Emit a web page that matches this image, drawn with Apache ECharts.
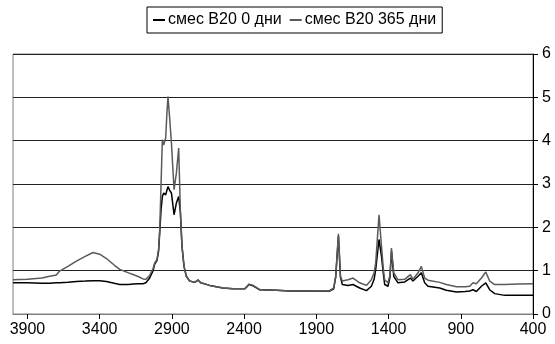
<!DOCTYPE html>
<html>
<head>
<meta charset="utf-8">
<script src="https://cdn.jsdelivr.net/npm/echarts@6/dist/echarts.min.js"></script>
<style>
html,body{margin:0;padding:0;background:#fff;}
#chart{width:555px;height:344px;}
</style>
</head>
<body>
<div id="chart"></div>
<script>
// волновые числа, см-1
var waveNumbers = [4000, 3900, 3800, 3746, 3700, 3677, 3620, 3561, 3500, 3446, 3400, 3353, 3300, 3261, 3200, 3169, 3130, 3100, 3080, 3054,
	3030, 3019, 3003, 2992, 2984, 2975, 2966, 2957, 2943, 2935, 2927, 2915, 2903, 2885, 2869, 2853, 2841, 2830, 2816, 2800,
	2777, 2742, 2719, 2700, 2638, 2546, 2477, 2396, 2380, 2366, 2338, 2292, 2176, 2084, 1946, 1808, 1780, 1766, 1747, 1733,
	1720, 1681, 1646, 1600, 1553, 1519, 1500, 1489, 1466, 1449, 1435, 1427, 1404, 1390, 1380, 1364, 1335, 1288, 1249, 1231,
	1196, 1173, 1150, 1127, 1046, 1000, 930, 870, 838, 815, 792, 757, 727, 700, 665, 596, 500, 400];
// смес B20 0 дни
var day0 = [0.72, 0.72, 0.71, 0.71, 0.72, 0.72, 0.73, 0.75, 0.76, 0.77, 0.77, 0.75, 0.71, 0.68, 0.68, 0.69, 0.70, 0.70, 0.72, 0.83,
	1.00, 1.15, 1.24, 1.45, 1.90, 2.40, 2.71, 2.79, 2.75, 2.85, 2.94, 2.85, 2.79, 2.29, 2.56, 2.71, 2.34, 1.56, 1.10, 0.87,
	0.76, 0.73, 0.78, 0.72, 0.66, 0.60, 0.58, 0.58, 0.63, 0.68, 0.65, 0.56, 0.55, 0.53, 0.53, 0.53, 0.58, 0.85, 1.80, 0.85,
	0.68, 0.66, 0.68, 0.60, 0.54, 0.64, 0.80, 1.03, 1.72, 1.33, 0.90, 0.68, 0.64, 0.85, 1.45, 0.87, 0.72, 0.74, 0.83, 0.76,
	0.87, 0.95, 0.72, 0.64, 0.60, 0.55, 0.51, 0.52, 0.53, 0.56, 0.52, 0.64, 0.72, 0.56, 0.47, 0.43, 0.43, 0.43];
// смес B20 365 дни
var day365 = [0.79, 0.80, 0.83, 0.87, 0.90, 0.99, 1.10, 1.22, 1.33, 1.42, 1.38, 1.28, 1.13, 1.03, 0.95, 0.91, 0.86, 0.81, 0.80, 0.89,
	1.05, 1.18, 1.26, 1.50, 1.95, 3.00, 4.02, 3.90, 4.06, 4.60, 5.02, 4.50, 3.94, 2.87, 3.25, 3.83, 2.34, 1.56, 1.10, 0.87,
	0.76, 0.73, 0.79, 0.72, 0.66, 0.60, 0.58, 0.58, 0.64, 0.69, 0.66, 0.56, 0.55, 0.53, 0.53, 0.54, 0.60, 0.87, 1.85, 0.87,
	0.76, 0.79, 0.83, 0.72, 0.66, 0.79, 0.95, 1.18, 2.29, 1.56, 1.00, 0.79, 0.72, 0.90, 1.52, 0.95, 0.79, 0.80, 0.91, 0.80,
	0.95, 1.10, 0.83, 0.78, 0.73, 0.68, 0.63, 0.63, 0.64, 0.72, 0.70, 0.83, 0.97, 0.76, 0.68, 0.68, 0.69, 0.70];
var xTicks = [3900, 3400, 2900, 2400, 1900, 1400, 900, 400];
var seriesNames = ['смес B20 0 дни', 'смес B20 365 дни'];

function pairs(ys)
{
	var out = [];
	for (var i = 0; i < waveNumbers.length; i++)
	{
		out.push([waveNumbers[i], ys[i]]);
	}
	return out;
}

var myChart = echarts.init(document.getElementById('chart'));
var font = 'Arial, "Liberation Sans", sans-serif';

option = {
	animation: false,
	backgroundColor: '#fff',
	legend: {
		data: seriesNames,
		left: 147,
		top: 7,
		padding: [5, 6, 5, 6],
		itemGap: 8,
		itemWidth: 12,
		itemHeight: 2,
		icon: 'rect',
		borderColor: '#000',
		borderWidth: 1,
		borderRadius: 0,
		textStyle: {fontFamily: font, fontSize: 16, color: '#000', padding: [0, 0, 0, -2]}
	},
	grid: {
		left: 13,
		right: 22,
		top: 54,
		bottom: 30,
		show: true,
		borderColor: '#808080',
		borderWidth: 1
	},
	xAxis: {
		type: 'value',
		inverse: true,
		min: 400,
		max: 4000,
		axisLine: {show: true, lineStyle: {color: '#808080', width: 1}},
		axisTick: {show: true, inside: false, length: 5, customValues: xTicks, lineStyle: {color: '#000'}},
		axisLabel: {
			customValues: xTicks,
			fontFamily: font, fontSize: 16, color: '#000', margin: 8,
			formatter: function (v) { return String(v); }
		},
		splitLine: {show: false}
	},
	yAxis: {
		type: 'value',
		position: 'right',
		min: 0,
		max: 6,
		interval: 1,
		axisLine: {show: true, lineStyle: {color: '#000', width: 1}},
		axisTick: {show: true, inside: false, length: 5, lineStyle: {color: '#000'}},
		axisLabel: {fontFamily: font, fontSize: 16, color: '#000', margin: 9},
		splitLine: {show: true, lineStyle: {color: '#222', width: 1}}
	},
	series: [{
		name: seriesNames[0],
		type: 'line',
		showSymbol: false,
		color: '#000',
		lineStyle: {width: 1.5},
		data: pairs(day0)
	},
	{
		name: seriesNames[1],
		type: 'line',
		showSymbol: false,
		color: '#5a5a5a',
		lineStyle: {width: 1.5},
		data: pairs(day365)
	}]
};
myChart.setOption(option);
</script>
</body>
</html>
